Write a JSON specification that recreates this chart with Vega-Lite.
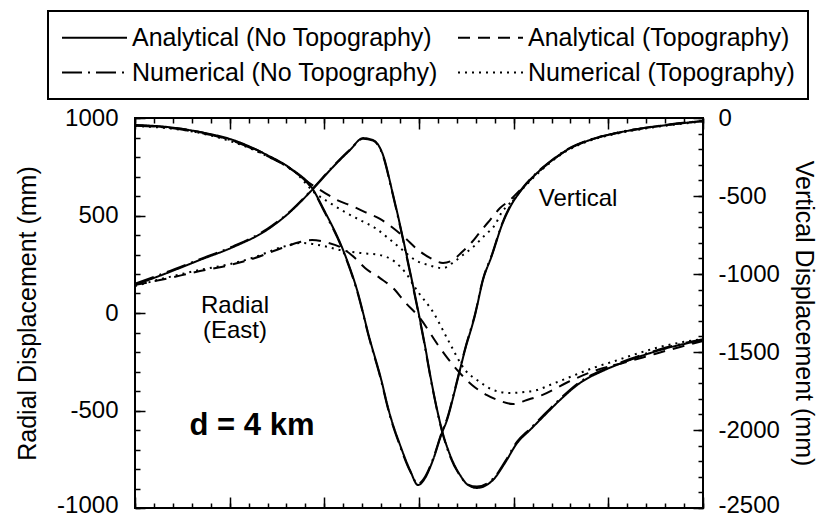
{
  "$schema": "https://vega.github.io/schema/vega-lite/v6.json",
  "width": 568,
  "height": 390,
  "autosize": {"type": "none"},
  "padding": {"left": 135, "top": 118, "right": 116, "bottom": 8},
  "background": "white",
  "config": {
    "view": {"stroke": "black", "strokeWidth": 2},
    "font": "Liberation Sans",
    "axis": {"domain": false, "grid": false, "tickColor": "black", "tickWidth": 1.5, "labelFont": "Liberation Sans", "labelFontSize": 24, "labelColor": "black", "titleFont": "Liberation Sans", "titleFontSize": 25, "titleFontWeight": "normal", "titleColor": "black"},
    "legend": {"symbolType": "M-1,0H4.2", "symbolSize": 625, "symbolStrokeWidth": 2, "symbolStrokeColor": "black", "symbolFillColor": "transparent", "labelFont": "Liberation Sans", "labelFontSize": 25, "labelColor": "black", "labelLimit": 500, "labelOffset": 44, "columnPadding": 16, "rowPadding": 8, "padding": 13, "strokeColor": "black", "strokeWidth": 2, "fillColor": "white"},
    "text": {"font": "Liberation Sans", "color": "black"}
  },
  "datasets": {
    "curves": [
      {"comp":"Radial","s":"Analytical (No Topography)","x":0,"value":144},
      {"comp":"Radial","s":"Analytical (No Topography)","x":1.69,"value":205},
      {"comp":"Radial","s":"Analytical (No Topography)","x":3.43,"value":272},
      {"comp":"Radial","s":"Analytical (No Topography)","x":5.18,"value":338},
      {"comp":"Radial","s":"Analytical (No Topography)","x":6.97,"value":426},
      {"comp":"Radial","s":"Analytical (No Topography)","x":8.19,"value":518},
      {"comp":"Radial","s":"Analytical (No Topography)","x":9.35,"value":631},
      {"comp":"Radial","s":"Analytical (No Topography)","x":10.46,"value":749},
      {"comp":"Radial","s":"Analytical (No Topography)","x":11.36,"value":836},
      {"comp":"Radial","s":"Analytical (No Topography)","x":12.04,"value":897},
      {"comp":"Radial","s":"Analytical (No Topography)","x":12.57,"value":887},
      {"comp":"Radial","s":"Analytical (No Topography)","x":13.1,"value":810},
      {"comp":"Radial","s":"Analytical (No Topography)","x":13.57,"value":631},
      {"comp":"Radial","s":"Analytical (No Topography)","x":14.0,"value":451},
      {"comp":"Radial","s":"Analytical (No Topography)","x":14.42,"value":262},
      {"comp":"Radial","s":"Analytical (No Topography)","x":14.84,"value":67},
      {"comp":"Radial","s":"Analytical (No Topography)","x":15.26,"value":-138},
      {"comp":"Radial","s":"Analytical (No Topography)","x":15.69,"value":-369},
      {"comp":"Radial","s":"Analytical (No Topography)","x":16.21,"value":-600},
      {"comp":"Radial","s":"Analytical (No Topography)","x":16.64,"value":-728},
      {"comp":"Radial","s":"Analytical (No Topography)","x":17.17,"value":-831},
      {"comp":"Radial","s":"Analytical (No Topography)","x":17.59,"value":-882},
      {"comp":"Radial","s":"Analytical (No Topography)","x":18.06,"value":-897},
      {"comp":"Radial","s":"Analytical (No Topography)","x":18.91,"value":-856},
      {"comp":"Radial","s":"Analytical (No Topography)","x":19.54,"value":-769},
      {"comp":"Radial","s":"Analytical (No Topography)","x":20.18,"value":-667},
      {"comp":"Radial","s":"Analytical (No Topography)","x":20.86,"value":-600},
      {"comp":"Radial","s":"Analytical (No Topography)","x":21.65,"value":-523},
      {"comp":"Radial","s":"Analytical (No Topography)","x":22.45,"value":-446},
      {"comp":"Radial","s":"Analytical (No Topography)","x":23.5,"value":-359},
      {"comp":"Radial","s":"Analytical (No Topography)","x":24.82,"value":-292},
      {"comp":"Radial","s":"Analytical (No Topography)","x":26.14,"value":-241},
      {"comp":"Radial","s":"Analytical (No Topography)","x":27.73,"value":-190},
      {"comp":"Radial","s":"Analytical (No Topography)","x":30,"value":-138},

      {"comp":"Radial","s":"Analytical (Topography)","x":0,"value":144},
      {"comp":"Radial","s":"Analytical (Topography)","x":1.32,"value":169},
      {"comp":"Radial","s":"Analytical (Topography)","x":3.43,"value":215},
      {"comp":"Radial","s":"Analytical (Topography)","x":5.02,"value":246},
      {"comp":"Radial","s":"Analytical (Topography)","x":6.34,"value":282},
      {"comp":"Radial","s":"Analytical (Topography)","x":7.76,"value":333},
      {"comp":"Radial","s":"Analytical (Topography)","x":8.71,"value":364},
      {"comp":"Radial","s":"Analytical (Topography)","x":9.35,"value":374},
      {"comp":"Radial","s":"Analytical (Topography)","x":10.04,"value":364},
      {"comp":"Radial","s":"Analytical (Topography)","x":10.93,"value":333},
      {"comp":"Radial","s":"Analytical (Topography)","x":11.62,"value":282},
      {"comp":"Radial","s":"Analytical (Topography)","x":12.15,"value":231},
      {"comp":"Radial","s":"Analytical (Topography)","x":12.94,"value":179},
      {"comp":"Radial","s":"Analytical (Topography)","x":13.63,"value":128},
      {"comp":"Radial","s":"Analytical (Topography)","x":14.26,"value":56},
      {"comp":"Radial","s":"Analytical (Topography)","x":15.05,"value":-26},
      {"comp":"Radial","s":"Analytical (Topography)","x":16.0,"value":-164},
      {"comp":"Radial","s":"Analytical (Topography)","x":17.01,"value":-292},
      {"comp":"Radial","s":"Analytical (Topography)","x":17.8,"value":-369},
      {"comp":"Radial","s":"Analytical (Topography)","x":18.59,"value":-421},
      {"comp":"Radial","s":"Analytical (Topography)","x":19.28,"value":-451},
      {"comp":"Radial","s":"Analytical (Topography)","x":19.97,"value":-467},
      {"comp":"Radial","s":"Analytical (Topography)","x":20.7,"value":-446},
      {"comp":"Radial","s":"Analytical (Topography)","x":21.5,"value":-421},
      {"comp":"Radial","s":"Analytical (Topography)","x":22.87,"value":-354},
      {"comp":"Radial","s":"Analytical (Topography)","x":24.4,"value":-292},
      {"comp":"Radial","s":"Analytical (Topography)","x":25.99,"value":-251},
      {"comp":"Radial","s":"Analytical (Topography)","x":27.46,"value":-210},
      {"comp":"Radial","s":"Analytical (Topography)","x":28.79,"value":-174},
      {"comp":"Radial","s":"Analytical (Topography)","x":30,"value":-144},

      {"comp":"Radial","s":"Numerical (No Topography)","x":0,"value":150},
      {"comp":"Radial","s":"Numerical (No Topography)","x":1.69,"value":210},
      {"comp":"Radial","s":"Numerical (No Topography)","x":3.43,"value":276},
      {"comp":"Radial","s":"Numerical (No Topography)","x":5.18,"value":342},
      {"comp":"Radial","s":"Numerical (No Topography)","x":6.97,"value":430},
      {"comp":"Radial","s":"Numerical (No Topography)","x":8.19,"value":521},
      {"comp":"Radial","s":"Numerical (No Topography)","x":9.35,"value":634},
      {"comp":"Radial","s":"Numerical (No Topography)","x":10.46,"value":752},
      {"comp":"Radial","s":"Numerical (No Topography)","x":11.36,"value":838},
      {"comp":"Radial","s":"Numerical (No Topography)","x":12.04,"value":893},
      {"comp":"Radial","s":"Numerical (No Topography)","x":12.57,"value":884},
      {"comp":"Radial","s":"Numerical (No Topography)","x":13.1,"value":805},
      {"comp":"Radial","s":"Numerical (No Topography)","x":13.57,"value":625},
      {"comp":"Radial","s":"Numerical (No Topography)","x":14.0,"value":445},
      {"comp":"Radial","s":"Numerical (No Topography)","x":14.42,"value":255},
      {"comp":"Radial","s":"Numerical (No Topography)","x":14.84,"value":60},
      {"comp":"Radial","s":"Numerical (No Topography)","x":15.26,"value":-145},
      {"comp":"Radial","s":"Numerical (No Topography)","x":15.69,"value":-375},
      {"comp":"Radial","s":"Numerical (No Topography)","x":16.21,"value":-605},
      {"comp":"Radial","s":"Numerical (No Topography)","x":16.64,"value":-735},
      {"comp":"Radial","s":"Numerical (No Topography)","x":17.17,"value":-835},
      {"comp":"Radial","s":"Numerical (No Topography)","x":17.59,"value":-880},
      {"comp":"Radial","s":"Numerical (No Topography)","x":18.06,"value":-890},
      {"comp":"Radial","s":"Numerical (No Topography)","x":18.91,"value":-850},
      {"comp":"Radial","s":"Numerical (No Topography)","x":19.54,"value":-762},
      {"comp":"Radial","s":"Numerical (No Topography)","x":20.18,"value":-660},
      {"comp":"Radial","s":"Numerical (No Topography)","x":20.86,"value":-594},
      {"comp":"Radial","s":"Numerical (No Topography)","x":21.65,"value":-517},
      {"comp":"Radial","s":"Numerical (No Topography)","x":22.45,"value":-440},
      {"comp":"Radial","s":"Numerical (No Topography)","x":23.5,"value":-353},
      {"comp":"Radial","s":"Numerical (No Topography)","x":24.82,"value":-287},
      {"comp":"Radial","s":"Numerical (No Topography)","x":26.14,"value":-236},
      {"comp":"Radial","s":"Numerical (No Topography)","x":27.73,"value":-186},
      {"comp":"Radial","s":"Numerical (No Topography)","x":30,"value":-134},

      {"comp":"Radial","s":"Numerical (Topography)","x":0,"value":138},
      {"comp":"Radial","s":"Numerical (Topography)","x":1.58,"value":179},
      {"comp":"Radial","s":"Numerical (Topography)","x":3.43,"value":221},
      {"comp":"Radial","s":"Numerical (Topography)","x":5.02,"value":251},
      {"comp":"Radial","s":"Numerical (Topography)","x":6.34,"value":287},
      {"comp":"Radial","s":"Numerical (Topography)","x":7.76,"value":338},
      {"comp":"Radial","s":"Numerical (Topography)","x":8.82,"value":359},
      {"comp":"Radial","s":"Numerical (Topography)","x":9.93,"value":344},
      {"comp":"Radial","s":"Numerical (Topography)","x":10.83,"value":323},
      {"comp":"Radial","s":"Numerical (Topography)","x":11.88,"value":308},
      {"comp":"Radial","s":"Numerical (Topography)","x":12.94,"value":297},
      {"comp":"Radial","s":"Numerical (Topography)","x":13.73,"value":262},
      {"comp":"Radial","s":"Numerical (Topography)","x":14.26,"value":210},
      {"comp":"Radial","s":"Numerical (Topography)","x":14.95,"value":108},
      {"comp":"Radial","s":"Numerical (Topography)","x":15.74,"value":5},
      {"comp":"Radial","s":"Numerical (Topography)","x":16.53,"value":-138},
      {"comp":"Radial","s":"Numerical (Topography)","x":17.43,"value":-292},
      {"comp":"Radial","s":"Numerical (Topography)","x":18.22,"value":-354},
      {"comp":"Radial","s":"Numerical (Topography)","x":18.91,"value":-395},
      {"comp":"Radial","s":"Numerical (Topography)","x":19.81,"value":-410},
      {"comp":"Radial","s":"Numerical (Topography)","x":20.6,"value":-405},
      {"comp":"Radial","s":"Numerical (Topography)","x":21.23,"value":-395},
      {"comp":"Radial","s":"Numerical (Topography)","x":21.92,"value":-369},
      {"comp":"Radial","s":"Numerical (Topography)","x":22.98,"value":-328},
      {"comp":"Radial","s":"Numerical (Topography)","x":24.19,"value":-282},
      {"comp":"Radial","s":"Numerical (Topography)","x":25.35,"value":-246},
      {"comp":"Radial","s":"Numerical (Topography)","x":26.3,"value":-215},
      {"comp":"Radial","s":"Numerical (Topography)","x":27.73,"value":-174},
      {"comp":"Radial","s":"Numerical (Topography)","x":28.94,"value":-149},
      {"comp":"Radial","s":"Numerical (Topography)","x":30,"value":-133},

      {"comp":"Vertical","s":"Analytical (No Topography)","x":0,"value":-45},
      {"comp":"Vertical","s":"Analytical (No Topography)","x":1.74,"value":-58},
      {"comp":"Vertical","s":"Analytical (No Topography)","x":3.43,"value":-90},
      {"comp":"Vertical","s":"Analytical (No Topography)","x":5.18,"value":-141},
      {"comp":"Vertical","s":"Analytical (No Topography)","x":6.97,"value":-237},
      {"comp":"Vertical","s":"Analytical (No Topography)","x":8.19,"value":-321},
      {"comp":"Vertical","s":"Analytical (No Topography)","x":9.35,"value":-449},
      {"comp":"Vertical","s":"Analytical (No Topography)","x":10.04,"value":-603},
      {"comp":"Vertical","s":"Analytical (No Topography)","x":10.99,"value":-846},
      {"comp":"Vertical","s":"Analytical (No Topography)","x":11.73,"value":-1103},
      {"comp":"Vertical","s":"Analytical (No Topography)","x":12.41,"value":-1423},
      {"comp":"Vertical","s":"Analytical (No Topography)","x":12.94,"value":-1647},
      {"comp":"Vertical","s":"Analytical (No Topography)","x":13.47,"value":-1904},
      {"comp":"Vertical","s":"Analytical (No Topography)","x":14.0,"value":-2096},
      {"comp":"Vertical","s":"Analytical (No Topography)","x":14.52,"value":-2256},
      {"comp":"Vertical","s":"Analytical (No Topography)","x":14.95,"value":-2353},
      {"comp":"Vertical","s":"Analytical (No Topography)","x":15.32,"value":-2308},
      {"comp":"Vertical","s":"Analytical (No Topography)","x":15.74,"value":-2192},
      {"comp":"Vertical","s":"Analytical (No Topography)","x":16.21,"value":-2019},
      {"comp":"Vertical","s":"Analytical (No Topography)","x":16.48,"value":-1936},
      {"comp":"Vertical","s":"Analytical (No Topography)","x":16.9,"value":-1744},
      {"comp":"Vertical","s":"Analytical (No Topography)","x":17.43,"value":-1487},
      {"comp":"Vertical","s":"Analytical (No Topography)","x":17.96,"value":-1263},
      {"comp":"Vertical","s":"Analytical (No Topography)","x":18.38,"value":-1038},
      {"comp":"Vertical","s":"Analytical (No Topography)","x":18.86,"value":-878},
      {"comp":"Vertical","s":"Analytical (No Topography)","x":19.38,"value":-686},
      {"comp":"Vertical","s":"Analytical (No Topography)","x":19.81,"value":-571},
      {"comp":"Vertical","s":"Analytical (No Topography)","x":20.33,"value":-474},
      {"comp":"Vertical","s":"Analytical (No Topography)","x":21.02,"value":-378},
      {"comp":"Vertical","s":"Analytical (No Topography)","x":21.92,"value":-282},
      {"comp":"Vertical","s":"Analytical (No Topography)","x":22.82,"value":-205},
      {"comp":"Vertical","s":"Analytical (No Topography)","x":24.03,"value":-141},
      {"comp":"Vertical","s":"Analytical (No Topography)","x":25.46,"value":-96},
      {"comp":"Vertical","s":"Analytical (No Topography)","x":26.94,"value":-64},
      {"comp":"Vertical","s":"Analytical (No Topography)","x":28.1,"value":-45},
      {"comp":"Vertical","s":"Analytical (No Topography)","x":30,"value":-19},

      {"comp":"Vertical","s":"Analytical (Topography)","x":0,"value":-45},
      {"comp":"Vertical","s":"Analytical (Topography)","x":3.43,"value":-90},
      {"comp":"Vertical","s":"Analytical (Topography)","x":6.97,"value":-237},
      {"comp":"Vertical","s":"Analytical (Topography)","x":8.45,"value":-346},
      {"comp":"Vertical","s":"Analytical (Topography)","x":9.35,"value":-429},
      {"comp":"Vertical","s":"Analytical (Topography)","x":10.04,"value":-481},
      {"comp":"Vertical","s":"Analytical (Topography)","x":10.67,"value":-526},
      {"comp":"Vertical","s":"Analytical (Topography)","x":11.46,"value":-564},
      {"comp":"Vertical","s":"Analytical (Topography)","x":12.15,"value":-603},
      {"comp":"Vertical","s":"Analytical (Topography)","x":12.94,"value":-647},
      {"comp":"Vertical","s":"Analytical (Topography)","x":13.63,"value":-705},
      {"comp":"Vertical","s":"Analytical (Topography)","x":14.26,"value":-769},
      {"comp":"Vertical","s":"Analytical (Topography)","x":14.95,"value":-846},
      {"comp":"Vertical","s":"Analytical (Topography)","x":15.58,"value":-897},
      {"comp":"Vertical","s":"Analytical (Topography)","x":16.27,"value":-929},
      {"comp":"Vertical","s":"Analytical (Topography)","x":16.8,"value":-910},
      {"comp":"Vertical","s":"Analytical (Topography)","x":17.27,"value":-859},
      {"comp":"Vertical","s":"Analytical (Topography)","x":17.8,"value":-795},
      {"comp":"Vertical","s":"Analytical (Topography)","x":18.22,"value":-731},
      {"comp":"Vertical","s":"Analytical (Topography)","x":18.75,"value":-654},
      {"comp":"Vertical","s":"Analytical (Topography)","x":19.28,"value":-577},
      {"comp":"Vertical","s":"Analytical (Topography)","x":19.81,"value":-526},
      {"comp":"Vertical","s":"Analytical (Topography)","x":20.33,"value":-462},
      {"comp":"Vertical","s":"Analytical (Topography)","x":21.02,"value":-378},
      {"comp":"Vertical","s":"Analytical (Topography)","x":21.92,"value":-282},
      {"comp":"Vertical","s":"Analytical (Topography)","x":22.82,"value":-205},
      {"comp":"Vertical","s":"Analytical (Topography)","x":24.03,"value":-141},
      {"comp":"Vertical","s":"Analytical (Topography)","x":25.46,"value":-96},
      {"comp":"Vertical","s":"Analytical (Topography)","x":26.94,"value":-64},
      {"comp":"Vertical","s":"Analytical (Topography)","x":28.1,"value":-45},
      {"comp":"Vertical","s":"Analytical (Topography)","x":30,"value":-19},

      {"comp":"Vertical","s":"Numerical (No Topography)","x":0,"value":-50},
      {"comp":"Vertical","s":"Numerical (No Topography)","x":1.74,"value":-62},
      {"comp":"Vertical","s":"Numerical (No Topography)","x":3.43,"value":-95},
      {"comp":"Vertical","s":"Numerical (No Topography)","x":5.18,"value":-147},
      {"comp":"Vertical","s":"Numerical (No Topography)","x":6.97,"value":-243},
      {"comp":"Vertical","s":"Numerical (No Topography)","x":8.19,"value":-326},
      {"comp":"Vertical","s":"Numerical (No Topography)","x":9.35,"value":-455},
      {"comp":"Vertical","s":"Numerical (No Topography)","x":10.04,"value":-610},
      {"comp":"Vertical","s":"Numerical (No Topography)","x":10.99,"value":-852},
      {"comp":"Vertical","s":"Numerical (No Topography)","x":11.73,"value":-1110},
      {"comp":"Vertical","s":"Numerical (No Topography)","x":12.41,"value":-1430},
      {"comp":"Vertical","s":"Numerical (No Topography)","x":12.94,"value":-1655},
      {"comp":"Vertical","s":"Numerical (No Topography)","x":13.47,"value":-1912},
      {"comp":"Vertical","s":"Numerical (No Topography)","x":14.0,"value":-2104},
      {"comp":"Vertical","s":"Numerical (No Topography)","x":14.52,"value":-2262},
      {"comp":"Vertical","s":"Numerical (No Topography)","x":14.95,"value":-2345},
      {"comp":"Vertical","s":"Numerical (No Topography)","x":15.32,"value":-2300},
      {"comp":"Vertical","s":"Numerical (No Topography)","x":15.74,"value":-2185},
      {"comp":"Vertical","s":"Numerical (No Topography)","x":16.21,"value":-2012},
      {"comp":"Vertical","s":"Numerical (No Topography)","x":16.48,"value":-1928},
      {"comp":"Vertical","s":"Numerical (No Topography)","x":16.9,"value":-1737},
      {"comp":"Vertical","s":"Numerical (No Topography)","x":17.43,"value":-1480},
      {"comp":"Vertical","s":"Numerical (No Topography)","x":17.96,"value":-1256},
      {"comp":"Vertical","s":"Numerical (No Topography)","x":18.38,"value":-1032},
      {"comp":"Vertical","s":"Numerical (No Topography)","x":18.86,"value":-872},
      {"comp":"Vertical","s":"Numerical (No Topography)","x":19.38,"value":-680},
      {"comp":"Vertical","s":"Numerical (No Topography)","x":19.81,"value":-565},
      {"comp":"Vertical","s":"Numerical (No Topography)","x":20.33,"value":-470},
      {"comp":"Vertical","s":"Numerical (No Topography)","x":21.02,"value":-374},
      {"comp":"Vertical","s":"Numerical (No Topography)","x":21.92,"value":-279},
      {"comp":"Vertical","s":"Numerical (No Topography)","x":22.82,"value":-202},
      {"comp":"Vertical","s":"Numerical (No Topography)","x":24.03,"value":-139},
      {"comp":"Vertical","s":"Numerical (No Topography)","x":25.46,"value":-94},
      {"comp":"Vertical","s":"Numerical (No Topography)","x":26.94,"value":-62},
      {"comp":"Vertical","s":"Numerical (No Topography)","x":28.1,"value":-43},
      {"comp":"Vertical","s":"Numerical (No Topography)","x":30,"value":-18},

      {"comp":"Vertical","s":"Numerical (Topography)","x":0,"value":-51},
      {"comp":"Vertical","s":"Numerical (Topography)","x":3.43,"value":-96},
      {"comp":"Vertical","s":"Numerical (Topography)","x":6.97,"value":-244},
      {"comp":"Vertical","s":"Numerical (Topography)","x":8.45,"value":-346},
      {"comp":"Vertical","s":"Numerical (Topography)","x":9.51,"value":-481},
      {"comp":"Vertical","s":"Numerical (Topography)","x":10.3,"value":-545},
      {"comp":"Vertical","s":"Numerical (Topography)","x":11.09,"value":-603},
      {"comp":"Vertical","s":"Numerical (Topography)","x":11.88,"value":-654},
      {"comp":"Vertical","s":"Numerical (Topography)","x":12.68,"value":-705},
      {"comp":"Vertical","s":"Numerical (Topography)","x":13.36,"value":-769},
      {"comp":"Vertical","s":"Numerical (Topography)","x":14.0,"value":-833},
      {"comp":"Vertical","s":"Numerical (Topography)","x":14.79,"value":-910},
      {"comp":"Vertical","s":"Numerical (Topography)","x":15.48,"value":-942},
      {"comp":"Vertical","s":"Numerical (Topography)","x":16.27,"value":-962},
      {"comp":"Vertical","s":"Numerical (Topography)","x":16.9,"value":-917},
      {"comp":"Vertical","s":"Numerical (Topography)","x":17.32,"value":-878},
      {"comp":"Vertical","s":"Numerical (Topography)","x":17.8,"value":-833},
      {"comp":"Vertical","s":"Numerical (Topography)","x":18.49,"value":-750},
      {"comp":"Vertical","s":"Numerical (Topography)","x":19.01,"value":-686},
      {"comp":"Vertical","s":"Numerical (Topography)","x":19.38,"value":-603},
      {"comp":"Vertical","s":"Numerical (Topography)","x":19.81,"value":-545},
      {"comp":"Vertical","s":"Numerical (Topography)","x":20.33,"value":-474},
      {"comp":"Vertical","s":"Numerical (Topography)","x":21.02,"value":-385},
      {"comp":"Vertical","s":"Numerical (Topography)","x":21.92,"value":-287},
      {"comp":"Vertical","s":"Numerical (Topography)","x":22.82,"value":-210},
      {"comp":"Vertical","s":"Numerical (Topography)","x":24.03,"value":-145},
      {"comp":"Vertical","s":"Numerical (Topography)","x":25.46,"value":-100},
      {"comp":"Vertical","s":"Numerical (Topography)","x":26.94,"value":-68},
      {"comp":"Vertical","s":"Numerical (Topography)","x":28.1,"value":-48},
      {"comp":"Vertical","s":"Numerical (Topography)","x":30,"value":-22}
    ]
  },
  "layer": [
    {
      "data": {"name": "curves"},
      "transform": [{"filter": "datum.comp === 'Radial'"}],
      "mark": {"type": "line", "strokeWidth": 2, "color": "black", "interpolate": "monotone"},
      "encoding": {
        "x": {"field": "x", "type": "quantitative", "scale": {"domain": [0, 30], "nice": false, "zero": false},
              "axis": {"orient": "bottom", "values": [0, 5, 10, 15, 20, 25, 30], "tickSize": -11, "labels": false, "title": null}},
        "y": {"field": "value", "type": "quantitative", "scale": {"domain": [-1000, 1000], "nice": false},
              "axis": {"orient": "left", "values": [-1000, -500, 0, 500, 1000], "tickSize": -10, "labelPadding": 27, "labelExpr": "'' + datum.value",
                       "labelBaseline": {"condition": {"test": "datum.value === -1000", "value": "alphabetic"}, "value": "middle"},
                       "labelOffset": {"condition": {"test": "datum.value === -1000", "value": 4}, "value": 0},
                       "title": "Radial Displacement (mm)", "titleX": -108, "titleY": 195, "titleAngle": -90, "titleAlign": "center", "titleBaseline": "middle"}},
        "strokeDash": {"field": "s", "type": "nominal",
                       "scale": {"domain": ["Analytical (No Topography)", "Analytical (Topography)", "Numerical (No Topography)", "Numerical (Topography)"],
                                 "range": [[1, 0], [12, 8], [20, 6, 2, 6], [2, 5]]},
                       "legend": {"title": null, "orient": "none", "legendX": -87, "legendY": -107, "columns": 2, "direction": "horizontal"}}
      }
    },
    {
      "data": {"name": "curves"},
      "transform": [{"filter": "datum.comp === 'Vertical'"}],
      "mark": {"type": "line", "strokeWidth": 2, "color": "black", "interpolate": "monotone"},
      "encoding": {
        "x": {"field": "x", "type": "quantitative", "scale": {"domain": [0, 30], "nice": false, "zero": false},
              "axis": {"orient": "top", "values": [0, 5, 10, 15, 20, 25, 30], "tickSize": -11, "labels": false, "title": null}},
        "y": {"field": "value", "type": "quantitative", "scale": {"domain": [-2500, 0], "nice": false},
              "axis": {"orient": "right", "values": [-2500, -2000, -1500, -1000, -500, 0], "tickSize": -10, "labelPadding": 25, "labelExpr": "'' + datum.value",
                       "labelBaseline": {"condition": {"test": "datum.value === -2500", "value": "alphabetic"}, "value": "middle"},
                       "labelOffset": {"condition": {"test": "datum.value === -2500", "value": 4}, "value": 0},
                       "title": "Vertical Displacement (mm)", "titleX": 100, "titleY": 195, "titleAngle": 90, "titleAlign": "center", "titleBaseline": "middle"}},
        "strokeDash": {"field": "s", "type": "nominal"}
      }
    },
    {
      "data": {"values": [{"t": "Radial\n(East)", "x": 5.28, "v": 36}]},
      "mark": {"type": "text", "fontSize": 24, "lineBreak": "\n", "lineHeight": 25, "align": "center", "baseline": "middle"},
      "encoding": {
        "x": {"field": "x", "type": "quantitative", "scale": {"domain": [0, 30], "nice": false, "zero": false},
              "axis": {"orient": "bottom", "values": [0,1,2,3,4,5,6,7,8,9,10,11,12,13,14,15,16,17,18,19,20,21,22,23,24,25,26,27,28,29,30], "tickSize": -5, "labels": false, "title": null}},
        "y": {"field": "v", "type": "quantitative", "scale": {"domain": [-1000, 1000], "nice": false},
              "axis": {"orient": "left", "values": [-1000,-900,-800,-700,-600,-500,-400,-300,-200,-100,0,100,200,300,400,500,600,700,800,900,1000], "tickSize": -5, "labels": false, "title": null}},
        "text": {"field": "t"}
      }
    },
    {
      "data": {"values": [{"t": "Vertical", "x": 23.4, "v": -519}]},
      "mark": {"type": "text", "fontSize": 24, "align": "center", "baseline": "middle"},
      "encoding": {
        "x": {"field": "x", "type": "quantitative", "scale": {"domain": [0, 30], "nice": false, "zero": false},
              "axis": {"orient": "top", "values": [0,1,2,3,4,5,6,7,8,9,10,11,12,13,14,15,16,17,18,19,20,21,22,23,24,25,26,27,28,29,30], "tickSize": -5, "labels": false, "title": null}},
        "y": {"field": "v", "type": "quantitative", "scale": {"domain": [-2500, 0], "nice": false},
              "axis": {"orient": "right", "values": [-2500,-2400,-2300,-2200,-2100,-2000,-1900,-1800,-1700,-1600,-1500,-1400,-1300,-1200,-1100,-1000,-900,-800,-700,-600,-500,-400,-300,-200,-100,0], "tickSize": -5, "labels": false, "title": null}},
        "text": {"field": "t"}
      }
    },
    {
      "data": {"values": [{"t": "d = 4 km", "x": 6.18, "v": -579}]},
      "mark": {"type": "text", "fontSize": 31, "fontWeight": "bold", "align": "center", "baseline": "middle"},
      "encoding": {
        "x": {"field": "x", "type": "quantitative", "scale": {"domain": [0, 30], "nice": false, "zero": false}, "axis": null},
        "y": {"field": "v", "type": "quantitative", "scale": {"domain": [-1000, 1000], "nice": false}, "axis": null},
        "text": {"field": "t"}
      }
    }
  ],
  "resolve": {"scale": {"x": "independent", "y": "independent"}, "axis": {"x": "independent", "y": "independent"}}
}
